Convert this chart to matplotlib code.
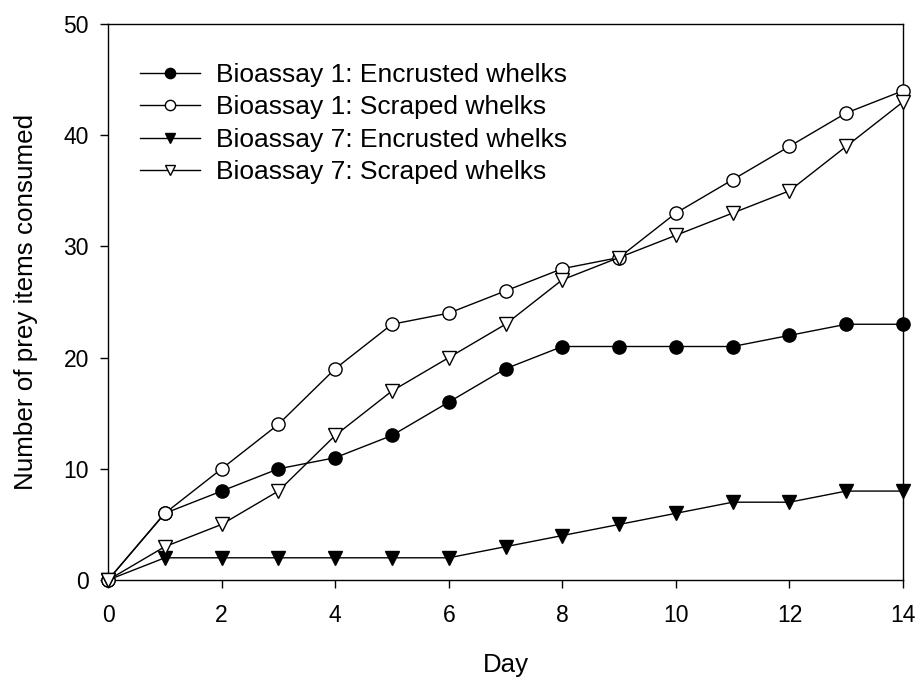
import matplotlib
matplotlib.use("Agg")
import matplotlib.pyplot as plt

plt.rcParams['font.family'] = ['Liberation Sans', 'DejaVu Sans']

days = list(range(15))
b1_encrusted = [0, 6, 8, 10, 11, 13, 16, 19, 21, 21, 21, 21, 22, 23, 23]
b1_scraped = [0, 6, 10, 14, 19, 23, 24, 26, 28, 29, 33, 36, 39, 42, 44]
b7_encrusted = [0, 2, 2, 2, 2, 2, 2, 3, 4, 5, 6, 7, 7, 8, 8]
b7_scraped = [0, 3, 5, 8, 13, 17, 20, 23, 27, 29, 31, 33, 35, 39, 43]

labels = ["Bioassay 1: Encrusted whelks", "Bioassay 1: Scraped whelks",
          "Bioassay 7: Encrusted whelks", "Bioassay 7: Scraped whelks"]
xticks = [0, 2, 4, 6, 8, 10, 12, 14]
yticks = [0, 10, 20, 30, 40, 50]

fig = plt.figure(figsize=(9.21, 6.8), dpi=100)
ax = fig.add_axes([0.1173, 0.147, 0.8632, 0.8177])

styles = [
    (b1_encrusted, 'o', 'black'),
    (b1_scraped, 'o', 'white'),
    (b7_encrusted, 'v', 'black'),
    (b7_scraped, 'v', 'white'),
]
for (vals, mk, fc), lab in zip(styles, labels):
    ax.plot(days, vals, color='black', lw=1.0, marker=mk, markersize=9.5,
            markerfacecolor=fc, markeredgecolor='black', markeredgewidth=1.0,
            label=lab, clip_on=False, zorder=3)

ax.set_xlim(0, 14)
ax.set_ylim(0, 50)
ax.set_xticks(xticks)
ax.set_yticks(yticks)
ax.tick_params(direction='out', length=5.8, width=1, labelsize=16.5)
ax.tick_params(axis='x', pad=11.5)
ax.tick_params(axis='y', pad=8)
for s in ax.spines.values():
    s.set_linewidth(1.0)

ax.set_xlabel("Day", fontsize=18.6, labelpad=19)
ax.set_ylabel("Number of prey items consumed", fontsize=18.7, labelpad=18)

ax.legend(loc='upper left', bbox_to_anchor=(0.040, 0.93), frameon=False,
          fontsize=19, handlelength=2.27, handletextpad=0.6, labelspacing=0.32,
          borderaxespad=0, borderpad=0, markerscale=0.78)

fig.savefig("out.png", dpi=100)
